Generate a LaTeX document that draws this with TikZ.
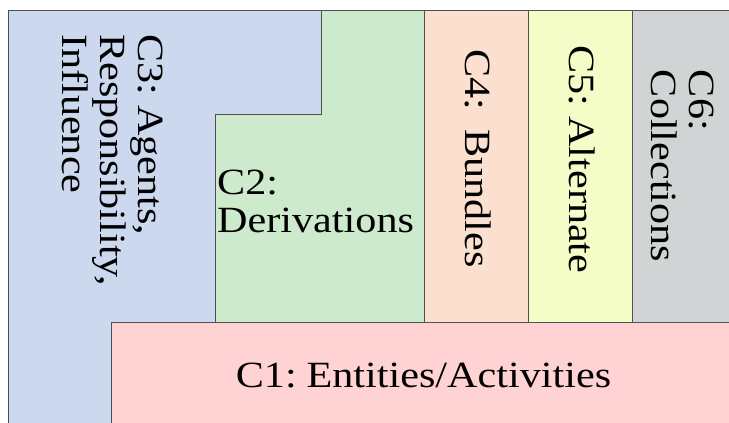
\documentclass[tikz,border=0pt]{standalone}
\usepackage{fontspec}
\usepackage{graphicx}
\setmainfont{Liberation Serif}
\definecolor{cblue}{HTML}{CCD8EE}
\definecolor{cgreen}{HTML}{CDEBCC}
\definecolor{cpeach}{HTML}{FBDFCF}
\definecolor{cyellow}{HTML}{F4FCC8}
\definecolor{cgray}{HTML}{D0D4D4}
\definecolor{cpink}{HTML}{FFD3D3}
\definecolor{edge}{HTML}{505050}
\newcommand{\tightsp}{\spaceskip=0.15em\relax}
\newcommand{\wtext}[1]{\scalebox{1.14}[1]{\tightsp\begin{tabular}{@{}l@{}}#1\end{tabular}}}
\tikzset{
  area/.style={draw=edge, line width=1pt},
  lab/.style={inner sep=0pt, font=\fontsize{37}{38}\selectfont},
  vlab/.style={lab, rotate=-90}
}
\begin{document}
\begin{tikzpicture}[x=1pt,y=-1pt]
\useasboundingbox (0,0) rectangle (729,423);
\fill[white] (0,0) rectangle (729,423);
\clip (0,0) rectangle (729,423);
% C3
\draw[area, fill=cblue] (8,10) -- (321,10) -- (321,114) -- (215,114) -- (215,322) -- (111,322) -- (111,430) -- (8,430) -- cycle;
% C2
\draw[area, fill=cgreen] (215,114) -- (321,114) -- (321,10) -- (424,10) -- (424,322) -- (215,322) -- cycle;
% C4
\draw[area, fill=cpeach] (424,10) rectangle (528,322);
% C5
\draw[area, fill=cyellow] (528,10) rectangle (632,322);
% C6
\draw[area, fill=cgray] (632,10) rectangle (740,322);
% C1
\draw[area, fill=cpink] (111,322) rectangle (740,430);
% labels
\node[vlab] (t3) at (108,160) {\wtext{C3: Agents,\\Responsibility,\\Influence}};
\node[lab, anchor=north west] (t2) at (217,168) {\wtext{C2:\\Derivations}};
\node[vlab] (t4) at (473,158.5) {\wtext{C4:\hspace{0.45em}Bundles}};
\node[vlab] (t5) at (577,159.5) {\wtext{C5: Alternate}};
\node[vlab] (t6) at (678,166) {\wtext{C6:\\Collections}};
\node[lab, anchor=base] (t1) at (423.5,387) {\scalebox{1.14}[1]{\tightsp C1: Entities/Activities}};
\end{tikzpicture}
\end{document}
